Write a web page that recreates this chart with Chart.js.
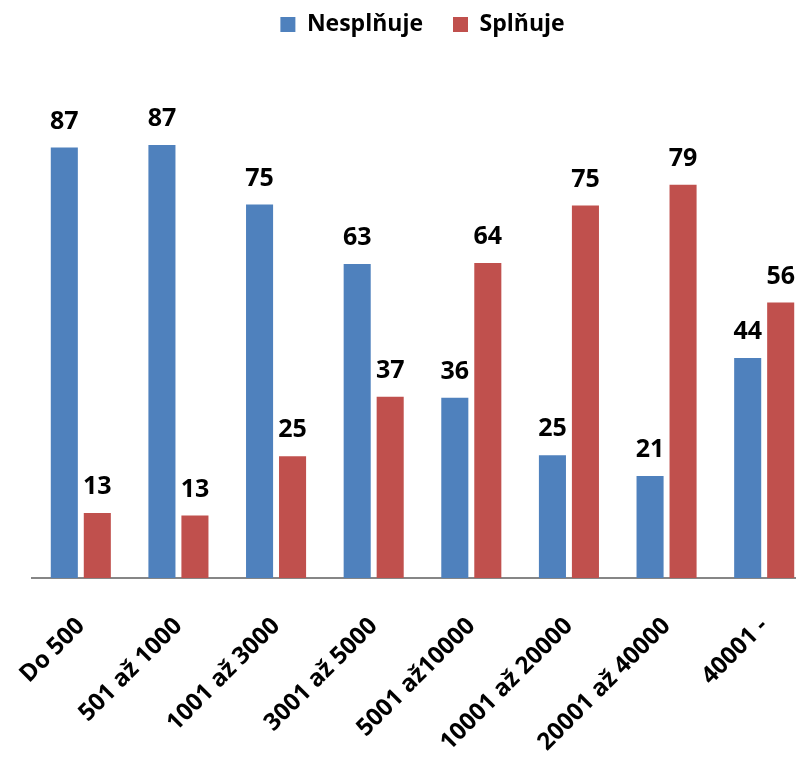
<!DOCTYPE html>
<html>
<head>
<meta charset="utf-8">
<script src="https://cdn.jsdelivr.net/npm/chart.js@4/dist/chart.umd.min.js"></script>
<style>
  html, body { margin: 0; padding: 0; background: #ffffff; overflow: hidden; width: 796px; height: 761px; }
  #wrap { position: absolute; left: 0; top: 0; width: 842px; height: 761px; }
</style>
</head>
<body>
<div id="wrap"><canvas id="c" width="842" height="761"></canvas></div>
<script>
const categories = ["Do 500", "501 až 1000", "1001 až 3000", "3001 až 5000", "5001 až10000", "10001 až 20000", "20001 až 40000", "40001 -"];
const nesplnuje = [86.9, 87.4, 75.4, 63.4, 36.4, 24.8, 20.6, 44.4];
const splnuje   = [13.1, 12.6, 24.6, 36.6, 63.6, 75.2, 79.4, 55.6];
const seriesNames = ["Nesplňuje", "Splňuje"];

const FONT = "'Open Sans', sans-serif";

const valueLabels = {
  id: 'valueLabels',
  afterDatasetsDraw(chart) {
    const ctx = chart.ctx;
    ctx.save();
    ctx.font = "bold 25px " + FONT;
    ctx.fillStyle = "#000000";
    ctx.textAlign = "center";
    ctx.textBaseline = "alphabetic";
    chart.data.datasets.forEach((ds, di) => {
      const meta = chart.getDatasetMeta(di);
      meta.data.forEach((el, i) => {
        ctx.fillText(String(Math.round(ds.data[i])), el.x, el.y - 19);
      });
    });
    ctx.restore();
  }
};

new Chart(document.getElementById('c'), {
  type: 'bar',
  data: {
    labels: categories,
    datasets: [
      { label: seriesNames[0], data: nesplnuje, backgroundColor: '#4F81BD', barPercentage: 0.82, categoryPercentage: 0.676 },
      { label: seriesNames[1], data: splnuje, backgroundColor: '#C0504D', barPercentage: 0.82, categoryPercentage: 0.676 }
    ]
  },
  options: {
    responsive: false,
    animation: false,
    layout: { padding: { left: 32, right: 29, top: -17, bottom: 0 } },
    plugins: {
      legend: {
        position: 'top',
        labels: {
          boxWidth: 15,
          boxHeight: 15,
          padding: 30,
          color: '#000000',
          font: { family: FONT, size: 23, weight: 'bold' }
        }
      },
      tooltip: { enabled: false }
    },
    scales: {
      x: {
        grid: { display: false, drawTicks: false },
        border: { display: true, color: '#868686', width: 2 },
        ticks: {
          color: '#000000',
          font: { family: FONT, size: 24, weight: 'bold' },
          minRotation: 45,
          maxRotation: 45,
          padding: 34,
          autoSkip: false
        },
        afterFit(scale) { scale.height = 183; scale.paddingLeft = 0; scale.paddingRight = 0; }
      },
      y: {
        display: false,
        min: 0,
        max: 107.4
      }
    }
  },
  plugins: [valueLabels]
});
</script>
</body>
</html>
